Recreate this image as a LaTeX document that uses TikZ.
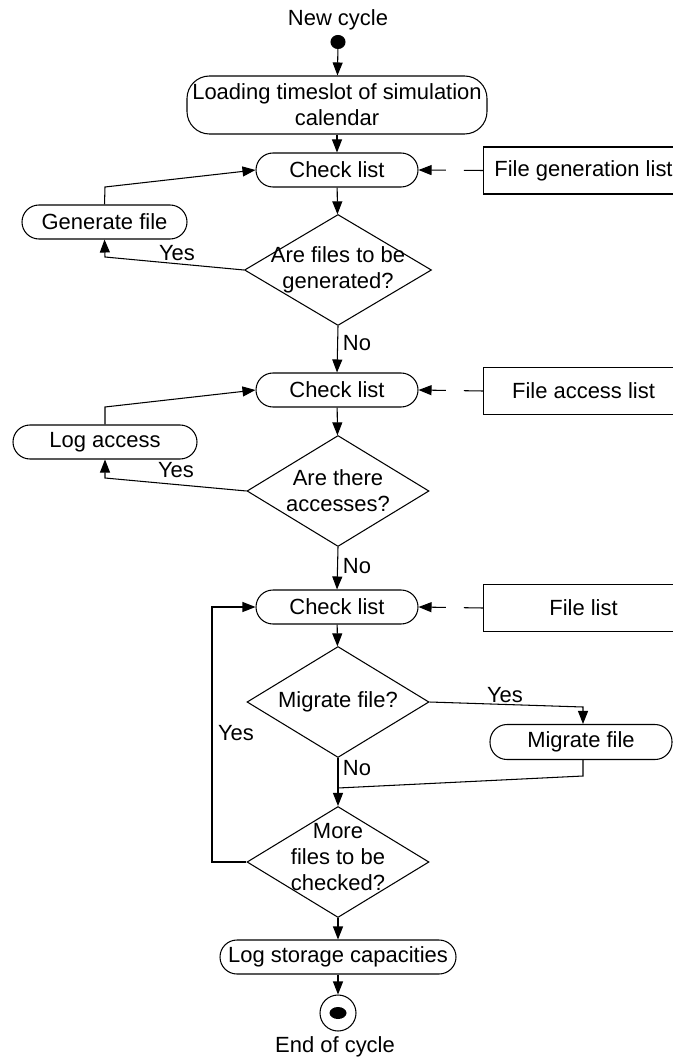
\documentclass[tikz,border=0pt]{standalone}
\usepackage{fontspec}
\setmainfont{Liberation Sans}
\usetikzlibrary{shapes.geometric,arrows.meta}
\tikzset{
activity/.style={draw, rectangle, rounded corners=0.34cm, minimum height=0.68cm, inner sep=0pt},
decision/.style={draw, diamond, minimum width=3.64cm, minimum height=2.22cm, inner sep=0pt},
listbox/.style={draw, rectangle, minimum width=4.0cm, minimum height=0.94cm, inner sep=0pt},
flow/.style={-{Triangle[length=0.26cm,width=0.2cm]}},
feed/.style={flow, dash pattern=on 0.38cm off 0.36cm}
}
\begin{document}
\begin{tikzpicture}[line width=0.6pt, font=\fontsize{12.5}{14.8}\selectfont]
\useasboundingbox (0,0) rectangle (13.46,-21.14);
\node (newcycle) at (6.76,-0.40) {New cycle};
\node[draw, fill, ellipse, minimum width=0.28cm, minimum height=0.26cm, inner sep=0pt] (start) at (6.76,-0.84) {};
\node[activity, minimum width=6.0cm, minimum height=1.16cm, rounded corners=0.45cm, align=center] (load) at (6.74,-2.10) {Loading timeslot of simulation\\calendar};
\node[activity, minimum width=3.24cm] (check1) at (6.74,-3.40) {Check list};
\node[listbox] (genlist) at (11.67,-3.41) {File generation list};
\node[decision, minimum width=3.74cm, label={[align=center]center:{Are files to be\\generated?}}] (d1) at (6.76,-5.40) {};
\node[activity, minimum width=3.3cm] (genfile) at (2.09,-4.44) {Generate file};
\node (yes1) at (3.54,-5.06) {Yes};
\node (no1) at (7.14,-6.86) {No};
\node[activity, minimum width=3.24cm] (check2) at (6.74,-7.80) {Check list};
\node[listbox] (acclist) at (11.67,-7.82) {File access list};
\node[activity, minimum width=3.68cm] (logacc) at (2.10,-8.84) {Log access};
\node (yes2) at (3.52,-9.40) {Yes};
\node[decision, label={[align=center]center:{Are there\\accesses?}}] (d2) at (6.76,-9.82) {};
\node (no2) at (7.14,-11.32) {No};
\node[activity, minimum width=3.24cm] (check3) at (6.74,-12.14) {Check list};
\node[listbox] (filelist) at (11.67,-12.16) {File list};
\node[decision, label={center:Migrate file?}] (d3) at (6.76,-14.04) {};
\node (yes3) at (10.10,-13.90) {Yes};
\node[activity, minimum width=3.64cm, minimum height=0.70cm] (migrate) at (11.62,-14.84) {Migrate file};
\node (no3) at (7.14,-15.36) {No};
\node (yes4) at (4.72,-14.66) {Yes};
\node[decision, label={[align=center, yshift=0.1cm]center:{More\\files to be\\checked?}}] (d4) at (6.76,-17.24) {};
\node[activity, minimum width=4.72cm] (logstore) at (6.76,-19.14) {Log storage capacities};
\node[draw, circle, minimum size=0.72cm, inner sep=0pt] (stop) at (6.76,-20.26) {};
\fill (stop.center) ellipse [x radius=0.17, y radius=0.12];
\node (endcycle) at (6.70,-20.94) {End of cycle};
\coordinate (merge) at (6.76,-15.76);
\draw[flow] (start) -- (load);
\draw[flow] (load) -- (check1);
\draw[feed] (genlist.west) -- (check1.east);
\draw[flow] (check1) -- (d1);
\draw[flow] (d1.west) -- (2.1,-5.14) -- (genfile.south);
\draw[flow] (genfile.north) -- (2.1,-3.74) -- (check1.west);
\draw[flow] (d1.south) -- (check2.north);
\draw[feed] (acclist.west) -- (check2.east);
\draw[flow] (check2) -- (d2);
\draw[flow] (d2.west) -- (2.1,-9.56) -- (logacc.south);
\draw[flow] (logacc.north) -- (2.1,-8.14) -- (check2.west);
\draw[flow] (d2.south) -- (check3.north);
\draw[feed] (filelist.west) -- (check3.east);
\draw[flow] (check3) -- (d3);
\draw[flow] (d3.east) -- (11.66,-14.14) -- (11.66,-14.14 |- migrate.north);
\draw (11.66,-14.14 |- migrate.south) -- (11.66,-15.52) -- (merge);
\draw[flow] (d3.south) -- (d4.north);
\draw[flow] (d4.west) -- (4.24,-17.24) |- (check3.west);
\draw[flow] (d4) -- (logstore);
\draw[flow] (logstore) -- (stop);
\end{tikzpicture}
\end{document}
